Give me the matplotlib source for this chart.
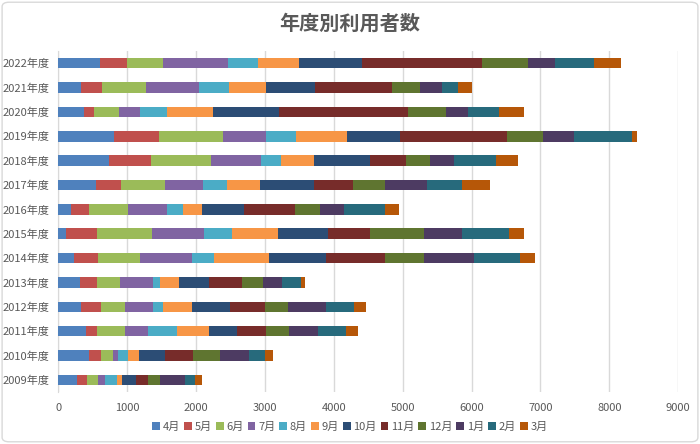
import numpy as np
import matplotlib.pyplot as plt
from matplotlib.patches import FancyBboxPatch

plt.rcParams['font.family'] = ['Noto Sans CJK JP', 'DejaVu Sans']

years = ["2009年度", "2010年度", "2011年度", "2012年度", "2013年度", "2014年度", "2015年度",
         "2016年度", "2017年度", "2018年度", "2019年度", "2020年度", "2021年度", "2022年度"]
months = ["4月", "5月", "6月", "7月", "8月", "9月", "10月", "11月", "12月", "1月", "2月", "3月"]

# rows = years (2009..2022), columns = months (4月..3月)
counts = np.array([
    [276, 150, 151, 106, 174, 73, 207, 170, 174, 364, 145, 102],
    [450, 175, 169, 82, 141, 164, 368, 412, 388, 425, 233, 106],
    [407, 155, 411, 334, 417, 469, 402, 416, 334, 427, 411, 174],
    [339, 286, 348, 407, 145, 411, 552, 514, 334, 546, 417, 170],
    [315, 247, 343, 465, 111, 272, 436, 473, 316, 275, 277, 58],
    [237, 348, 610, 751, 320, 794, 822, 857, 577, 726, 664, 212],
    [121, 450, 790, 760, 396, 674, 720, 620, 785, 552, 672, 228],
    [189, 266, 562, 566, 228, 281, 600, 740, 373, 345, 599, 204],
    [552, 363, 639, 552, 344, 474, 790, 571, 464, 606, 513, 396],
    [745, 610, 863, 730, 291, 479, 804, 528, 343, 354, 610, 320],
    [809, 658, 925, 625, 430, 751, 759, 1564, 509, 450, 842, 83],
    [378, 140, 372, 301, 388, 672, 949, 1884, 541, 320, 450, 369],
    [334, 301, 639, 774, 436, 533, 711, 1119, 411, 319, 233, 199],
    [610, 392, 513, 950, 440, 595, 905, 1743, 664, 392, 566, 403],
])

colors = ["#4F81BD", "#C0504D", "#9BBB59", "#8064A2", "#4BACC6", "#F79646",
          "#2C4D75", "#772C2A", "#5F7530", "#4D3B62", "#276A7C", "#B65708"]

fig = plt.figure(figsize=(7, 4.44), dpi=100)
ax = fig.add_axes([0.083, 0.117, 0.886, 0.768])

y = np.arange(len(years))
left = np.zeros(len(years))
for i, m in enumerate(months):
    ax.barh(y, counts[:, i], left=left, height=0.43, color=colors[i], label=m, zorder=3)
    left += counts[:, i]

ax.set_xlim(0, 9000)
ax.set_ylim(-0.5, len(years) - 0.5)
ax.set_xticks(np.arange(0, 9001, 1000))
ax.set_yticks(y)
ax.set_yticklabels(years)
ax.grid(axis='x', color='#D9D9D9', linewidth=1, zorder=0)
for s in ['top', 'right', 'bottom']:
    ax.spines[s].set_visible(False)
ax.spines['left'].set_color('#D9D9D9')
ax.tick_params(axis='both', length=0, colors='#595959', labelsize=8)
ax.tick_params(axis='x', pad=8)
ax.tick_params(axis='y', pad=6)

fig.text(0.5, 0.948, "年度別利用者数", ha='center', va='center', fontsize=14.5,
         fontweight='bold', color='#595959')

fig.legend(loc='center', bbox_to_anchor=(0.5, 0.038), ncol=12, frameon=False,
           fontsize=8, handlelength=0.7, handleheight=0.7, handletextpad=0.25,
           columnspacing=0.35, labelcolor='#595959')

border = FancyBboxPatch((0.003, 0.005), 0.994, 0.99, boxstyle="round,pad=0,rounding_size=0.01",
                        transform=fig.transFigure, fill=False, edgecolor='#D9D9D9', linewidth=1)
fig.patches.append(border)

plt.savefig("out.png", dpi=100)
